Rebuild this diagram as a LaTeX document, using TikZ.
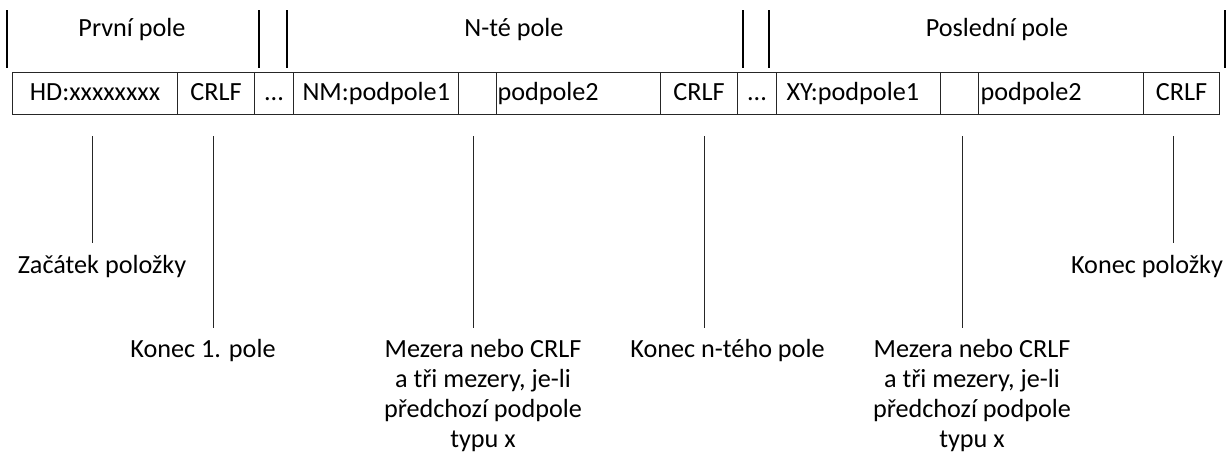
\documentclass[tikz,border=0pt]{standalone}
\usepackage{fontspec}
\setmainfont{Carlito}
\begin{document}
\begin{tikzpicture}[x=1pt,y=-1pt,
  every node/.style={font=\fontsize{26.2}{30}\selectfont},
  cell/.style={draw=black!85, line width=1pt, minimum height=42pt, inner sep=0pt,
    text height=14pt, text depth=0pt, anchor=north west},
  lcell/.style={cell, text width=#1, align=left},
  bar/.style={line width=2pt, black},
  lead/.style={line width=0.9pt, black!85},
  lbl/.style={anchor=base, inner sep=0pt, align=center}]
\useasboundingbox (0,0) rectangle (1230,461);

% top field labels
\node[lbl] (prvni) at (132,36) {První pole};
\node[lbl] (nte) at (514,36) {N-té pole};
\node[lbl] (posl) at (997,36) {Poslední pole};

% top bars
\coordinate (s1a) at (7,10);    \coordinate (s1b) at (7,68);
\coordinate (s2a) at (259,10);  \coordinate (s2b) at (259,68);
\coordinate (s3a) at (287,10);  \coordinate (s3b) at (287,68);
\coordinate (s4a) at (743,10);  \coordinate (s4b) at (743,68);
\coordinate (s5a) at (769,10);  \coordinate (s5b) at (769,68);
\coordinate (s6a) at (1225,10); \coordinate (s6b) at (1225,68);
\foreach \i in {1,...,6} \draw[bar] (s\i a) -- (s\i b);

% record cells
\node[cell, minimum width=165pt] (hd) at (12,72) {HD:xxxxxxxx};
\node[cell, minimum width=77pt] (crlf1) at (177,72) {CRLF};
\node[cell, minimum width=39pt] (dots1) at (254,72) {...};
\node[lcell=165pt] (nm) at (293,72) {\hspace*{9pt}NM:podpole1};
\node[cell, minimum width=38pt] (sp1) at (458,72) {};
\node[lcell=164pt] (pp1) at (496,72) {\hspace*{1pt}podpole2};
\node[cell, minimum width=77pt] (crlf2) at (660,72) {CRLF};
\node[cell, minimum width=39pt] (dots2) at (737,72) {...};
\node[lcell=164pt] (xy) at (776,72) {\hspace*{10pt}XY:podpole1};
\node[cell, minimum width=38pt] (sp2) at (940,72) {};
\node[lcell=165pt] (pp2) at (978,72) {\hspace*{2pt}podpole2};
\node[cell, minimum width=76pt] (crlf3) at (1143,72) {CRLF};

% bottom labels (multi-line nodes: base = last line)
\node[lbl] (zac) at (102,273) {Začátek položky};
\node[lbl] (kon1) at (203,357) {Konec 1. pole};
\node[lbl] (mez1) at (483,447) {Mezera nebo CRLF\\a tři mezery, je-li\\předchozí podpole\\typu x};
\node[lbl] (konn) at (727.5,357) {Konec n-tého pole};
\node[lbl] (mez2) at (972,447) {Mezera nebo CRLF\\a tři mezery, je-li\\předchozí podpole\\typu x};
\node[lbl] (konp) at (1147,273) {Konec položky};

% leader lines
\coordinate (l1a) at (92,136);   \coordinate (l1b) at (92,243);
\coordinate (l2a) at (213,136);  \coordinate (l2b) at (213,328);
\coordinate (l3a) at (473,136);  \coordinate (l3b) at (473,328);
\coordinate (l4a) at (704,136);  \coordinate (l4b) at (704,328);
\coordinate (l5a) at (962,136);  \coordinate (l5b) at (962,328);
\coordinate (l6a) at (1173,136); \coordinate (l6b) at (1173,243);
\foreach \i in {1,...,6} \draw[lead] (l\i a) -- (l\i b);
\end{tikzpicture}
\end{document}
